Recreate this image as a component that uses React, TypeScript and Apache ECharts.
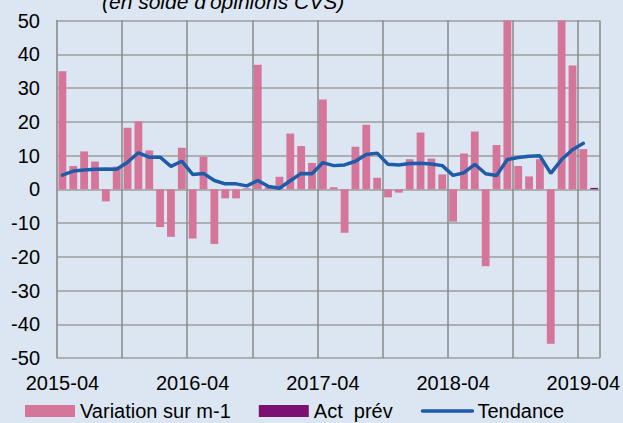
import React, { useEffect, useRef } from "react";
import * as echarts from "echarts";

const months: string[] = [];
for (let i = 0; i < 50; i++) {
  const y = 2015 + Math.floor((3 + i) / 12);
  const m = ((3 + i) % 12) + 1;
  months.push(`${y}-${m < 10 ? "0" + m : m}`);
}

const variation: (number | null)[] = [
  35.0, 6.9, 11.2, 8.2, -3.6, 6.7, 18.2, 20.1, 11.5, -11.2, -14.1, 12.3,
  -14.6, 9.6, -16.2, -2.7, -2.7, 0.3, 36.9, 0.6, 3.7, 16.5, 12.8, 7.8,
  26.6, 0.6, -12.9, 12.6, 19.1, 3.4, -2.4, -1.0, 8.9, 16.8, 9.1, 4.4,
  -9.6, 10.6, 17.1, -22.8, 13.1, 58, 6.9, 3.8, 8.9, -45.8, 58, 36.7,
  11.9, null,
];

const actPrev: (number | null)[] = [
  null, null, null, null, null, null, null, null, null, null, null, null,
  null, null, null, null, null, null, null, null, null, null, null, null,
  null, null, null, null, null, null, null, null, null, null, null, null,
  null, null, null, null, null, null, null, null, null, null, null, null,
  null, 0.4,
];

const tendance: (number | null)[] = [
  4.2, 5.4, 5.7, 5.9, 6.0, 5.9, 8.0, 10.8, 9.5, 9.5, 6.8, 8.3,
  4.4, 4.7, 2.6, 1.6, 1.6, 1.0, 2.6, 0.8, 0.3, 2.5, 4.7, 4.6,
  7.9, 7.0, 7.2, 8.3, 10.3, 10.7, 7.4, 7.2, 7.6, 7.7, 7.5, 7.0,
  4.1, 4.9, 7.4, 4.6, 4.1, 8.8, 9.4, 9.8, 9.9, 4.7, 8.8, 11.7,
  13.6, null,
];

const FONT = "'Liberation Sans', Arial, sans-serif";

export default function App() {
  const ref = useRef<HTMLDivElement>(null);
  useEffect(() => {
    if (!ref.current) return;
    const chart = echarts.init(ref.current, undefined, { renderer: "svg" });
    chart.setOption({
      animation: false,
      backgroundColor: "#dce6f2",
      textStyle: { fontFamily: FONT },
      graphic: [
        {
          type: "text",
          x: 102,
          y: 1,
          style: {
            text: "(en solde d'opinions CVS)",
            font: `italic 21px ${FONT}`,
            fill: "#000",
            verticalAlign: "middle",
          },
        },
      ],
      legend: {
        left: 20,
        top: 396,
        itemWidth: 50,
        itemHeight: 12,
        itemGap: 28,
        textStyle: { fontSize: 20, color: "#000", fontFamily: FONT },
        data: [
          { name: "Variation sur m-1", icon: "rect" },
          { name: "Act  prév", icon: "rect" },
          {
            name: "Tendance",
            itemStyle: { opacity: 0 },
            lineStyle: { width: 3.5, color: "#1f5ca8", cap: "round" },
          },
        ],
      },
      grid: { left: 57, right: 21, top: 20.5, bottom: 65, containLabel: false },
      xAxis: {
        type: "category",
        data: months,
        boundaryGap: true,
        axisLine: { show: false },
        axisTick: { show: false },
        axisLabel: {
          interval: 11,
          margin: 15,
          fontSize: 20,
          color: "#000",
          fontFamily: FONT,
        },
        splitLine: {
          show: true,
          interval: (i: number) => i % 6 === 0,
          lineStyle: { color: "#8a8a8a", width: 1.5 },
        },
      },
      yAxis: {
        type: "value",
        min: -50,
        max: 50,
        interval: 10,
        axisLine: { show: true, lineStyle: { color: "#9a9a9a", width: 1.5 } },
        axisTick: { show: false },
        axisLabel: { margin: 17, fontSize: 20, color: "#000", fontFamily: FONT },
        splitLine: { show: true, lineStyle: { color: "#9e9e9e", width: 1.5 } },
      },
      series: [
        {
          name: "Variation sur m-1",
          type: "bar",
          data: variation,
          barGap: "-100%",
          barCategoryGap: "28%",
          itemStyle: { color: "#d5759a" },
          clip: true,
        },
        {
          name: "Act  prév",
          type: "bar",
          data: actPrev,
          barGap: "-100%",
          barCategoryGap: "28%",
          itemStyle: { color: "#7b1072" },
          clip: true,
        },
        {
          name: "Tendance",
          type: "line",
          data: tendance,
          showSymbol: false,
          symbol: "none",
          lineStyle: { color: "#1f5ca8", width: 3.5, cap: "round" },
          itemStyle: { color: "#1f5ca8" },
        },
      ],
    });
    return () => chart.dispose();
  }, []);
  return (
    <div
      ref={ref}
      style={{ position: "fixed", left: 0, top: 0, width: 623, height: 423 }}
    />
  );
}
